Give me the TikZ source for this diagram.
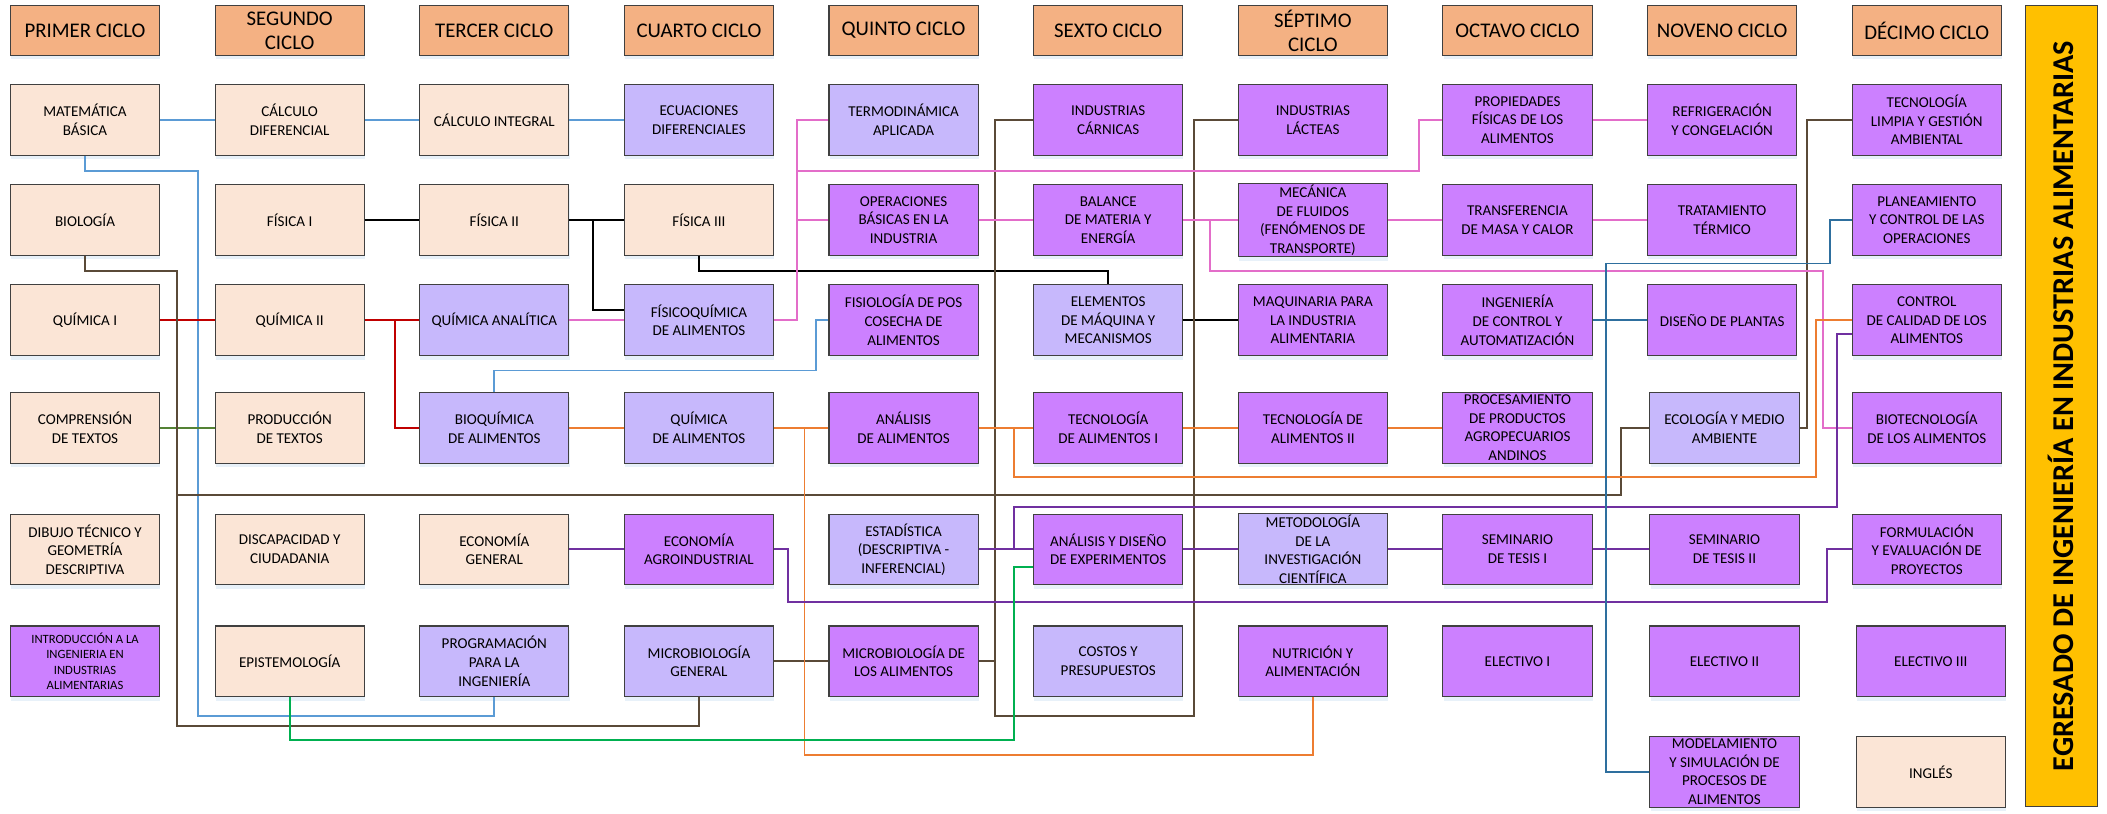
\documentclass[tikz,border=0pt]{standalone}
\usepackage{fontspec}
\setmainfont{Carlito}
\usetikzlibrary{shadows}
\definecolor{peach}{HTML}{FBE5D6}
\definecolor{lav}{HTML}{C7B8FC}
\definecolor{pur}{HTML}{CC80FF}
\definecolor{hdrc}{HTML}{F4B183}
\definecolor{boxline}{HTML}{404040}
\definecolor{lblue}{HTML}{5B9BD5}
\definecolor{cred}{HTML}{C00000}
\definecolor{olive}{HTML}{548235}
\definecolor{cbrown}{HTML}{5A4A38}
\definecolor{cpink}{HTML}{E36DC9}
\definecolor{corange}{HTML}{ED7D31}
\definecolor{cpurple}{HTML}{7030A0}
\definecolor{cgreen}{HTML}{00B050}
\definecolor{cteal}{HTML}{2E6F9E}
\definecolor{cyellow}{HTML}{FFC000}
\definecolor{shadowc}{HTML}{BDD7EE}
\tikzset{
  box/.style={draw=boxline, line width=0.8pt, minimum width=111pt, minimum height=52.5pt,
    inner sep=1pt, align=center, font=\fontsize{11.2}{13.8}\selectfont,
    drop shadow={shadow xshift=0.5pt, shadow yshift=-3pt, opacity=0.35, fill=shadowc}},
  gen/.style={box, fill=peach},
  lav/.style={box, fill=lav},
  pur/.style={box, fill=pur},
  hdr/.style={box, fill=hdrc, minimum height=37pt, font=\fontsize{15.5}{18}\selectfont},
  conn/.style={line width=1.4pt, line join=miter}
}
\begin{document}
\begin{tikzpicture}[x=1pt,y=-1pt]
\useasboundingbox (0,0) rectangle (1567.6,605.6);
% headers
\node[hdr] (H1) at (63.25,22.7) {PRIMER CICLO};
\node[hdr] (H2) at (215.5,22.7) {SEGUNDO\\CICLO};
\node[hdr] (H3) at (367.75,22.7) {TERCER CICLO};
\node[hdr] (H4) at (520,22.7) {CUARTO CICLO};
\node[hdr] (H5) at (672.25,22.7) {QUINTO CICLO};
\node[hdr] (H6) at (824.5,22.7) {SEXTO CICLO};
\node[hdr] (H7) at (976.75,22.7) {SÉPTIMO\\CICLO};
\node[hdr] (H8) at (1129,22.7) {OCTAVO CICLO};
\node[hdr] (H9) at (1281.25,22.7) {NOVENO CICLO};
\node[hdr] (H10) at (1433.5,22.7) {DÉCIMO CICLO};
% column 1
\node[gen] (Mat) at (63.25,89.25) {MATEMÁTICA\\BÁSICA};
\node[gen] (Bio) at (63.25,163.75) {BIOLOGÍA};
\node[gen] (QuimI) at (63.25,238.25) {QUÍMICA I};
\node[gen] (Compr) at (63.25,318.25) {COMPRENSIÓN\\DE TEXTOS};
\node[gen] (Dibujo) at (63.25,408.75) {DIBUJO TÉCNICO Y\\GEOMETRÍA\\DESCRIPTIVA};
\node[pur, font=\fontsize{9.4}{11.3}\selectfont] (Intro) at (63.25,492) {INTRODUCCIÓN A LA\\INGENIERIA EN\\INDUSTRIAS\\ALIMENTARIAS};
% column 2
\node[gen] (CalcDif) at (215.5,89.25) {CÁLCULO\\DIFERENCIAL};
\node[gen] (FisI) at (215.5,163.75) {FÍSICA I};
\node[gen] (QuimII) at (215.5,238.25) {QUÍMICA II};
\node[gen] (Prod) at (215.5,318.25) {PRODUCCIÓN\\DE TEXTOS};
\node[gen] (Discap) at (215.5,408.75) {DISCAPACIDAD Y\\CIUDADANIA};
\node[gen] (Epist) at (215.5,492) {EPISTEMOLOGÍA};
% column 3
\node[gen] (CalcInt) at (367.75,89.25) {CÁLCULO INTEGRAL};
\node[gen] (FisII) at (367.75,163.75) {FÍSICA II};
\node[lav] (QuimAn) at (367.75,238.25) {QUÍMICA ANALÍTICA};
\node[lav] (Bioq) at (367.75,318.25) {BIOQUÍMICA\\DE ALIMENTOS};
\node[gen] (EconGen) at (367.75,408.75) {ECONOMÍA\\GENERAL};
\node[lav] (Prog) at (367.75,492) {PROGRAMACIÓN\\PARA LA\\INGENIERÍA};
% column 4
\node[lav] (EcDif) at (520,89.25) {ECUACIONES\\DIFERENCIALES};
\node[gen] (FisIII) at (520,163.75) {FÍSICA III};
\node[lav] (Fisicoq) at (520,238.25) {FÍSICOQUÍMICA\\DE ALIMENTOS};
\node[lav] (QuimAl) at (520,318.25) {QUÍMICA\\DE ALIMENTOS};
\node[pur] (EconAgro) at (520,408.75) {ECONOMÍA\\AGROINDUSTRIAL};
\node[lav] (MicroGen) at (520,492) {MICROBIOLOGÍA\\GENERAL};
% column 5
\node[lav] (Termo) at (672.25,89.25) {TERMODINÁMICA\\APLICADA};
\node[pur] (OpBas) at (672.25,163.75) {OPERACIONES\\BÁSICAS EN LA\\INDUSTRIA};
\node[pur] (Fisiol) at (672.25,238.25) {FISIOLOGÍA DE POS\\COSECHA DE\\ALIMENTOS};
\node[pur] (AnalAl) at (672.25,318.25) {ANÁLISIS\\DE ALIMENTOS};
\node[lav] (Estad) at (672.25,408.75) {ESTADÍSTICA\\(DESCRIPTIVA -\\INFERENCIAL)};
\node[pur] (MicroAl) at (672.25,492) {MICROBIOLOGÍA DE\\LOS ALIMENTOS};
% column 6
\node[pur] (IndCarn) at (824.5,89.25) {INDUSTRIAS\\CÁRNICAS};
\node[pur] (Balance) at (824.5,163.75) {BALANCE\\DE MATERIA Y\\ENERGÍA};
\node[lav] (Elem) at (824.5,238.25) {ELEMENTOS\\DE MÁQUINA Y\\MECANISMOS};
\node[pur] (TecAlI) at (824.5,318.25) {TECNOLOGÍA\\DE ALIMENTOS I};
\node[pur] (AnDis) at (824.5,408.75) {ANÁLISIS Y DISEÑO\\DE EXPERIMENTOS};
\node[lav] (Costos) at (824.5,492) {COSTOS Y\\PRESUPUESTOS};
% column 7
\node[pur] (IndLact) at (976.75,89.25) {INDUSTRIAS\\LÁCTEAS};
\node[pur] (Mecan) at (976.75,163.75) {MECÁNICA\\DE FLUIDOS\\(FENÓMENOS DE\\TRANSPORTE)};
\node[pur] (Maq) at (976.75,238.25) {MAQUINARIA PARA\\LA INDUSTRIA\\ALIMENTARIA};
\node[pur] (TecAlII) at (976.75,318.25) {TECNOLOGÍA DE\\ALIMENTOS II};
\node[lav] (Metod) at (976.75,408.75) {METODOLOGÍA\\DE LA\\INVESTIGACIÓN\\CIENTÍFICA};
\node[pur] (Nutri) at (976.75,492) {NUTRICIÓN Y\\ALIMENTACIÓN};
% column 8
\node[pur] (Propied) at (1129,89.25) {PROPIEDADES\\FÍSICAS DE LOS\\ALIMENTOS};
\node[pur] (Transf) at (1129,163.75) {TRANSFERENCIA\\DE MASA Y CALOR};
\node[pur] (IngCont) at (1129,238.25) {INGENIERÍA\\DE CONTROL Y\\AUTOMATIZACIÓN};
\node[pur] (Proces) at (1129,318.25) {PROCESAMIENTO\\DE PRODUCTOS\\AGROPECUARIOS\\ANDINOS};
\node[pur] (SemI) at (1129,408.75) {SEMINARIO\\DE TESIS I};
\node[pur] (ElecI) at (1129,492) {ELECTIVO I};
% column 9
\node[pur] (Refrig) at (1281.25,89.25) {REFRIGERACIÓN\\Y CONGELACIÓN};
\node[pur] (Tratam) at (1281.25,163.75) {TRATAMIENTO\\TÉRMICO};
\node[pur] (DisPl) at (1281.25,238.25) {DISEÑO DE PLANTAS};
\node[lav] (Ecolog) at (1283,318.25) {ECOLOGÍA Y MEDIO\\AMBIENTE};
\node[pur] (SemII) at (1283,408.75) {SEMINARIO\\DE TESIS II};
\node[pur] (ElecII) at (1283,492) {ELECTIVO II};
\node[pur] (Model) at (1283,574.25) {MODELAMIENTO\\Y SIMULACIÓN DE\\PROCESOS DE\\ALIMENTOS};
% column 10
\node[pur] (TecLimp) at (1433.5,89.25) {TECNOLOGÍA\\LIMPIA Y GESTIÓN\\AMBIENTAL};
\node[pur] (Planeam) at (1433.5,163.75) {PLANEAMIENTO\\Y CONTROL DE LAS\\OPERACIONES};
\node[pur] (ControlCal) at (1433.5,238.25) {CONTROL\\DE CALIDAD DE LOS\\ALIMENTOS};
\node[pur] (Biotec) at (1433.5,318.25) {BIOTECNOLOGÍA\\DE LOS ALIMENTOS};
\node[pur] (Formul) at (1433.5,408.75) {FORMULACIÓN\\Y EVALUACIÓN DE\\PROYECTOS};
\node[pur] (ElecIII) at (1436.5,492) {ELECTIVO III};
\node[gen] (Ingles) at (1436.5,574.25) {INGLÉS};
% graduate bar
\node[draw=boxline, line width=0.8pt, fill=cyellow, minimum width=53.5pt, minimum height=595.8pt, inner sep=0pt] (Egr) at (1533.45,302.1) {};
\node[rotate=90, font=\fontsize{22.5}{26}\selectfont\bfseries] (EgrT) at (Egr.center) {EGRESADO DE INGENIERÍA EN INDUSTRIAS ALIMENTARIAS};
% ---------- connectors ----------
% light blue
\draw[conn, lblue] (Mat.east) -- (CalcDif.west);
\draw[conn, lblue] (CalcDif.east) -- (CalcInt.west);
\draw[conn, lblue] (CalcInt.east) -- (EcDif.west);
\draw[conn, lblue] (Mat.south) -- (63.25,127.3) -- (147.3,127.3) -- (147.3,532.5) -- (367.75,532.5) -- (Prog.south);
\draw[conn, lblue] (Bioq.north) -- (367.75,275.6) -- (607,275.6) -- (607,238.25) -- (Fisiol.west);
% black
\draw[conn, black] (FisI.east) -- (FisII.west);
\draw[conn, black] (FisII.east) -- (FisIII.west);
\draw[conn, black] (441.5,163.75) -- (441.5,230.5) -- (Fisicoq.west |- 0,230.5);
\draw[conn, black] (FisIII.south) -- (520,201.7) -- (824.5,201.7) -- (Elem.north);
\draw[conn, black] (Elem.east) -- (Maq.west);
% red
\draw[conn, cred] (QuimI.east) -- (QuimII.west);
\draw[conn, cred] (QuimII.east) -- (QuimAn.west);
\draw[conn, cred] (294.1,238.25) -- (294.1,318.25) -- (Bioq.west);
% olive
\draw[conn, olive] (Compr.east) -- (Prod.west);
% brown
\draw[conn, cbrown] (Bio.south) -- (63.25,201.7) -- (132,201.7) -- (132,540.3) -- (520,540.3) -- (MicroGen.south);
\draw[conn, cbrown] (132,368) -- (1206,368) -- (1206,318.25) -- (Ecolog.west);
\draw[conn, cbrown] (Ecolog.east) -- (1344.7,318.25) -- (1344.7,89.25) -- (TecLimp.west);
\draw[conn, cbrown] (MicroGen.east) -- (MicroAl.west);
\draw[conn, cbrown] (IndCarn.west) -- (740.5,89.25) -- (740.5,532.8) -- (888.5,532.8) -- (888.5,89.25) -- (IndLact.west);
\draw[conn, cbrown] (MicroAl.east) -- (740.5,492);
% pink
\draw[conn, cpink] (QuimAn.east) -- (Fisicoq.west);
\draw[conn, cpink] (Fisicoq.east) -- (593,238.25) -- (593,89.25) -- (Termo.west);
\draw[conn, cpink] (593,127.3) -- (1056,127.3) -- (1056,89.25) -- (Propied.west);
\draw[conn, cpink] (593,163.75) -- (OpBas.west);
\draw[conn, cpink] (OpBas.east) -- (Balance.west);
\draw[conn, cpink] (Balance.east) -- (Mecan.west);
\draw[conn, cpink] (Mecan.east) -- (Transf.west);
\draw[conn, cpink] (Transf.east) -- (Tratam.west);
\draw[conn, cpink] (Propied.east) -- (Refrig.west);
\draw[conn, cpink] (900.3,163.75) -- (900.3,201.7) -- (1356,201.7) -- (1356,318.25) -- (Biotec.west);
% orange
\draw[conn, corange] (Bioq.east) -- (QuimAl.west);
\draw[conn, corange] (QuimAl.east) -- (AnalAl.west);
\draw[conn, corange] (AnalAl.east) -- (TecAlI.west);
\draw[conn, corange] (TecAlI.east) -- (TecAlII.west);
\draw[conn, corange] (TecAlII.east) -- (Proces.west);
\draw[conn, corange] (598.5,318.25) -- (598.5,561.5) -- (976.75,561.5) -- (Nutri.south);
\draw[conn, corange] (754.5,318.25) -- (754.5,355) -- (1351,355) -- (1351,238.25) -- (ControlCal.west);
% purple
\draw[conn, cpurple] (EconGen.east) -- (EconAgro.west);
\draw[conn, cpurple] (EconAgro.east) -- (586.5,408.75) -- (586.5,448) -- (1359,448) -- (1359,408.75) -- (Formul.west);
\draw[conn, cpurple] (Estad.east) -- (AnDis.west);
\draw[conn, cpurple] (AnDis.east) -- (Metod.west);
\draw[conn, cpurple] (Metod.east) -- (SemI.west);
\draw[conn, cpurple] (SemI.east) -- (SemII.west);
\draw[conn, cpurple] (754.5,408.75) -- (754.5,377) -- (1367,377) -- (1367,248.6) -- (ControlCal.west |- 0,248.6);
% green
\draw[conn, cgreen] (Epist.south) -- (215.5,550.6) -- (754.5,550.6) -- (754.5,422) -- (AnDis.west |- 0,422);
% teal
\draw[conn, cteal] (IngCont.east) -- (DisPl.west);
\draw[conn, cteal] (Planeam.west) -- (1361.6,163.75) -- (1361.6,196) -- (1195.1,196) -- (1195.1,574.25) -- (Model.west);
\end{tikzpicture}
\end{document}
